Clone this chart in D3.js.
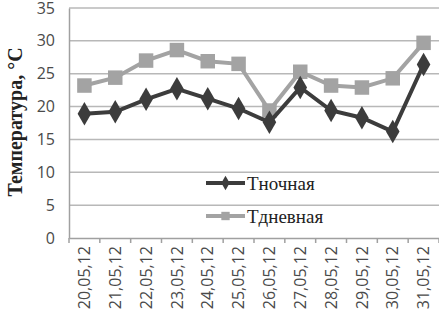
<!DOCTYPE html>
<html>
<head>
<meta charset="utf-8">
<script src="https://cdn.jsdelivr.net/npm/d3@7"></script>
<style>
  body { margin: 0; background: #fff; }
</style>
</head>
<body>
<div id="chart-area"></div>
<script>
// dates and temperatures
var dates = ["20,05,12", "21,05,12", "22,05,12", "23,05,12", "24,05,12", "25,05,12",
             "26,05,12", "27,05,12", "28,05,12", "29,05,12", "30,05,12", "31,05,12"];
var tNight = [18.9, 19.2, 21.1, 22.7, 21.2, 19.7, 17.6, 22.9, 19.4, 18.3, 16.2, 26.4];
var tDay = [23.2, 24.4, 27.0, 28.6, 26.9, 26.5, 19.4, 25.3, 23.2, 22.9, 24.3, 29.7];
var yTicks = [0, 5, 10, 15, 20, 25, 30, 35];

var width = 439, height = 325;
var plotL = 69, plotR = 439, plotT = 8, plotB = 238;

var svg = d3.select("#chart-area")
    .append("svg")
    .attr("width", width)
    .attr("height", height);

var x = d3.scaleBand()
    .domain(dates)
    .range([plotL, plotR]);

var y = d3.scaleLinear()
    .domain([0, 35])
    .range([plotB, plotT]);

// gridlines
svg.selectAll(".grid")
    .data(yTicks.slice(1))
    .enter()
    .append("line")
    .attr("x1", plotL)
    .attr("x2", plotR)
    .attr("y1", d => y(d))
    .attr("y2", d => y(d))
    .attr("stroke", "#b8b8b8")
    .attr("stroke-width", 1.5);

// y axis
var yAxis = svg.append("g")
    .attr("transform", "translate(" + plotL + ",0)")
    .call(d3.axisLeft(y).tickValues(yTicks).tickSize(0).tickPadding(14));
yAxis.select(".domain").attr("stroke", "#a0a0a0").attr("stroke-width", 1.5);
yAxis.selectAll("text")
    .attr("fill", "#4a4a4a")
    .style("font-family", "'Open Sans', sans-serif")
    .style("font-size", "16px");

// x axis
var xAxis = svg.append("g")
    .attr("transform", "translate(0," + plotB + ")")
    .call(d3.axisBottom(x).tickSize(0));
xAxis.select(".domain").attr("stroke", "#a0a0a0").attr("stroke-width", 1.5);
xAxis.selectAll("line.tk")
    .data(d3.range(dates.length + 1))
    .enter()
    .append("line")
    .attr("class", "tk")
    .attr("x1", d => plotL + d * x.step())
    .attr("x2", d => plotL + d * x.step())
    .attr("y1", 0)
    .attr("y2", 5)
    .attr("stroke", "#a0a0a0")
    .attr("stroke-width", 1.5);
xAxis.selectAll(".tick text")
    .attr("transform", "rotate(-90)")
    .attr("x", -8)
    .attr("y", 0)
    .attr("dy", "0.35em")
    .attr("text-anchor", "end")
    .attr("fill", "#4a4a4a")
    .style("font-family", "'Open Sans', sans-serif")
    .style("font-size", "16px");

// y label
svg.append("text")
    .attr("transform", "translate(22," + 122 + ") rotate(-90)")
    .attr("text-anchor", "middle")
    .style("font-family", "'Liberation Serif', serif")
    .style("font-weight", "bold")
    .style("font-size", "20px")
    .attr("fill", "#222")
    .text("Температура, °C");

var line = d3.line()
    .x((d, i) => x(dates[i]) + x.bandwidth() / 2)
    .y(d => y(d));

var series = [
    { name: "Тдневная", values: tDay, color: "#a3a3a3", marker: d3.symbolSquare, size: 210 },
    { name: "Тночная", values: tNight, color: "#3c3c3c", marker: d3.symbolDiamond, size: 160 }
];

series.forEach(function(s) {
    svg.append("path")
        .datum(s.values)
        .attr("fill", "none")
        .attr("stroke", s.color)
        .attr("stroke-width", 4)
        .attr("d", line);
    svg.selectAll(null)
        .data(s.values)
        .enter()
        .append("path")
        .attr("transform", (d, i) => "translate(" + (x(dates[i]) + x.bandwidth() / 2) + "," + y(d) + ")")
        .attr("d", d3.symbol().type(s.marker).size(s.size))
        .attr("fill", s.color);
});

// legend
var legend = [
    { name: "Тночная", color: "#3c3c3c", marker: d3.symbolDiamond, size: 60, y: 183 },
    { name: "Тдневная", color: "#a3a3a3", marker: d3.symbolSquare, size: 70, y: 216 }
];
legend.forEach(function(l) {
    svg.append("line")
        .attr("x1", 206).attr("x2", 245)
        .attr("y1", l.y).attr("y2", l.y)
        .attr("stroke", l.color)
        .attr("stroke-width", 4);
    svg.append("path")
        .attr("transform", "translate(225.5," + l.y + ")")
        .attr("d", d3.symbol().type(l.marker).size(l.size))
        .attr("fill", l.color);
    svg.append("text")
        .attr("x", 247)
        .attr("y", l.y)
        .attr("dy", "0.35em")
        .style("font-family", "'Liberation Serif', serif")
        .style("font-size", "19px")
        .attr("fill", "#222")
        .text(l.name);
});
</script>
</body>
</html>
